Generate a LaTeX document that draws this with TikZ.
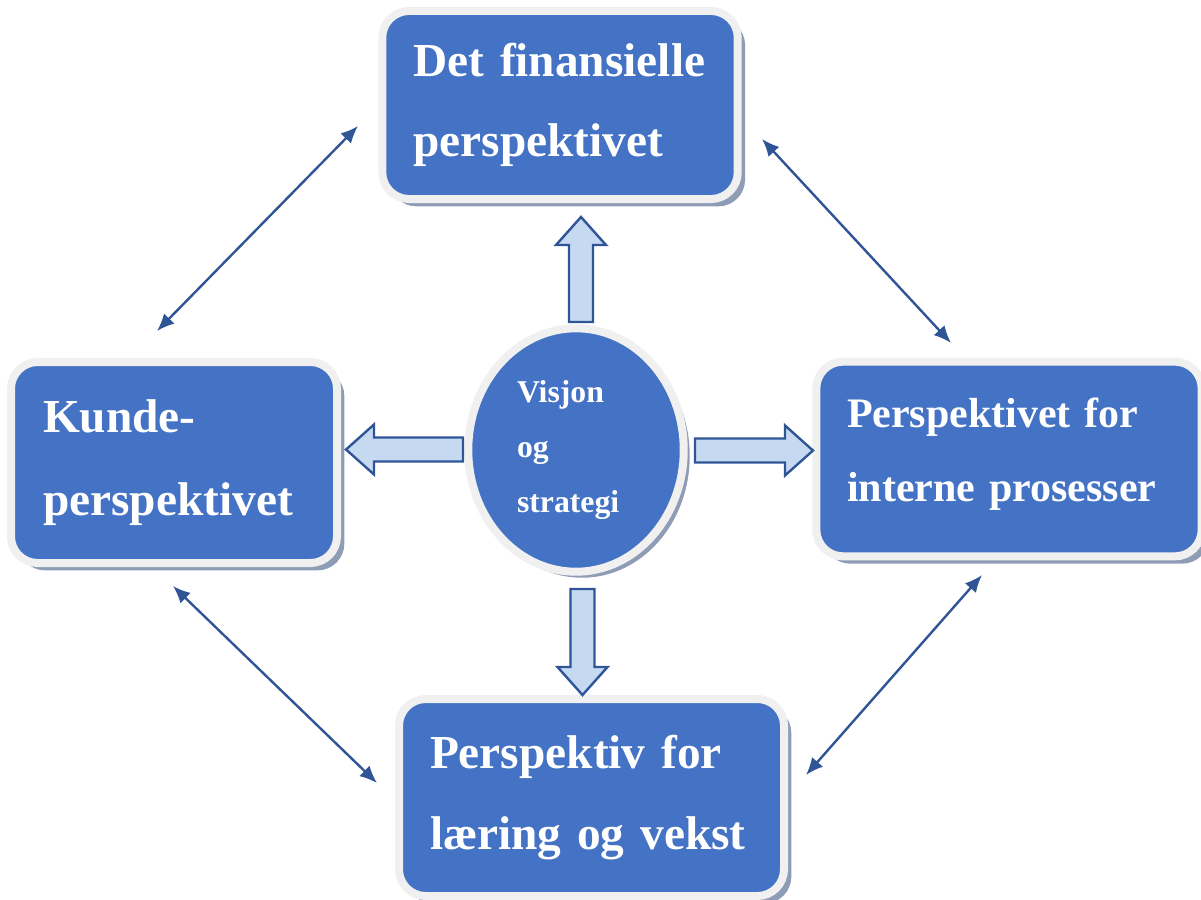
\documentclass[tikz,border=0pt]{standalone}
\usepackage{fontspec}
\setmainfont{Liberation Serif}
\usetikzlibrary{arrows.meta,calc,shadows,shapes.geometric}

\definecolor{boxblue}{RGB}{68,114,196}
\definecolor{ringgray}{RGB}{240,240,240}
\definecolor{rimgray}{RGB}{142,156,182}
\definecolor{arrowfill}{RGB}{197,217,241}
\definecolor{arrowline}{RGB}{47,85,151}

\tikzset{
  perspbox/.style={rectangle, rounded corners=20pt, fill=boxblue, draw=ringgray,
    line width=6pt, text=white, align=left, inner ysep=0pt,
    drop shadow={shadow xshift=5.5pt, shadow yshift=-5.5pt, fill=rimgray, opacity=1}},
  visjonshape/.style={ellipse, fill=boxblue, draw=ringgray, line width=6pt, text=white,
    align=left, inner sep=0pt,
    drop shadow={shadow xshift=4.5pt, shadow yshift=-4.5pt, fill=rimgray, opacity=1}},
  fatarrow/.style={fill=arrowfill, draw=arrowline, line width=1.8pt, line join=miter},
  linkarrow/.style={{Latex[length=13pt,width=11pt]}-{Latex[length=13pt,width=11pt]},
    draw=arrowline, line width=1.8pt}
}

\begin{document}
\begin{tikzpicture}[x=0.75pt,y=-0.75pt]
  \useasboundingbox (0,0) rectangle (1201,899);
  \clip (0,0) rectangle (1201,899);

  %Perspective boxes
  \node[perspbox, minimum width=266.6pt, minimum height=141pt, inner xsep=23.25pt,
    text width=220pt, font={\bfseries\fontsize{35.5pt}{60pt}\selectfont}]
    (fin) at (560,105) {Det finansielle\\perspektivet};
  \node[perspbox, minimum width=244.5pt, minimum height=150.75pt, inner xsep=24pt,
    text width=196.5pt, font={\bfseries\fontsize{35.5pt}{62pt}\selectfont}]
    (kunde) at (174,462.5) {Kunde-\\perspektivet};
  \node[perspbox, minimum width=289pt, minimum height=146pt, inner xsep=23pt,
    text width=243pt, text depth=70pt, font={\bfseries\fontsize{31.5pt}{55.5pt}\selectfont}]
    (intern) at (1009,459) {Perspektivet for\\interne prosesser};
  \node[perspbox, minimum width=288.75pt, minimum height=147.75pt, inner xsep=23.25pt,
    text width=242.25pt, font={\bfseries\fontsize{35.5pt}{60.75pt}\selectfont}]
    (laering) at (591.5,797.5) {Perspektiv for\\læring og vekst};

  %Centre ellipse
  \node[visjonshape, minimum width=161.6pt, minimum height=182.6pt, text width=88.5pt,
    font={\bfseries\fontsize{23.8pt}{41pt}\selectfont}]
    (visjon) at (576,450) {Visjon\\og\\strategi};

  %Block arrows out of the centre
  \foreach \bx/\by/\ang/\len in {581/322/90/105, 463/449.5/180/117, 695/450.5/0/118, 582.5/589/270/106}
    \draw[fatarrow, shift={(\bx,\by)}, rotate=\ang]
      (0,-12) -- (\len-28,-12) -- (\len-28,-25) -- (\len,0) -- (\len-28,25) -- (\len-28,12) -- (0,12) -- cycle;

  %Links between the perspectives
  \coordinate (kunde-t) at (157,331);
  \coordinate (fin-l) at (358,126);
  \coordinate (fin-r) at (762,139);
  \coordinate (intern-t) at (951,343);
  \coordinate (kunde-b) at (173,586);
  \coordinate (laering-l) at (377,783);
  \coordinate (intern-b) at (982,575);
  \coordinate (laering-r) at (806,775);
  \draw[linkarrow] (kunde-t) -- (fin-l);
  \draw[linkarrow] (fin-r) -- (intern-t);
  \draw[linkarrow] (kunde-b) -- (laering-l);
  \draw[linkarrow] (intern-b) -- (laering-r);
\end{tikzpicture}
\end{document}
